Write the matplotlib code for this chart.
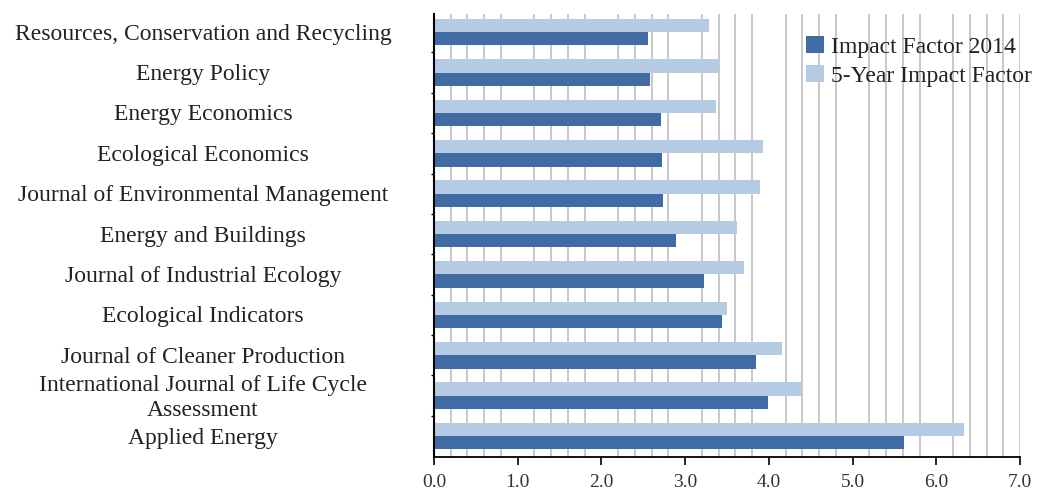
import numpy as np
import matplotlib
matplotlib.use("Agg")
import matplotlib.pyplot as plt
from matplotlib.transforms import blended_transform_factory, offset_copy

journals = [
    "Resources, Conservation and Recycling",
    "Energy Policy",
    "Energy Economics",
    "Ecological Economics",
    "Journal of Environmental Management",
    "Energy and Buildings",
    "Journal of Industrial Ecology",
    "Ecological Indicators",
    "Journal of Cleaner Production",
    "International Journal of Life Cycle\nAssessment",
    "Applied Energy",
]
impact_2014 = [2.56, 2.58, 2.71, 2.72, 2.73, 2.89, 3.23, 3.44, 3.85, 3.99, 5.61]
impact_5yr = [3.28, 3.39, 3.37, 3.93, 3.90, 3.62, 3.70, 3.50, 4.16, 4.38, 6.33]
xticks = [0, 1, 2, 3, 4, 5, 6, 7]
xticklabels = ["0.0", "1.0", "2.0", "3.0", "4.0", "5.0", "6.0", "7.0"]

plt.rcParams['font.family'] = ['Liberation Serif', 'DejaVu Serif']

fig = plt.figure(figsize=(10.41, 4.90), dpi=100)
ax = fig.add_axes([434/1041, 1 - 457/490, (1020 - 434)/1041, (457 - 14)/490])

dark = "#416ca3"
light = "#b5cae3"
h = 0.33
y = np.arange(len(journals))

# minor gridlines every 0.2 (not at integer values), plus at the end 7.0
for g in np.arange(0.2, 7.01, 0.2):
    if abs(g - round(g)) < 1e-6 and round(g) != 7:
        continue
    ax.axvline(g, color="#c8c8c8", lw=1.4, zorder=0)

ax.barh(y - h/2, impact_5yr, height=h, color=light, label="5-Year Impact Factor", zorder=2)
ax.barh(y + h/2, impact_2014, height=h, color=dark, label="Impact Factor 2014", zorder=2)

ax.set_xlim(0, 7)
ax.set_ylim(10.52, -0.45)
ax.set_xticks(xticks)
ax.set_xticklabels(xticklabels, fontsize=14)
ax.tick_params(axis='x', direction='out', length=6, width=1.2, colors='black',
               labelcolor="#333333", pad=6)

ax.set_yticks(np.arange(len(journals) - 1) + 0.5)
ax.set_yticklabels([])
ax.tick_params(axis='y', direction='out', length=2, width=1.0)

for s in ['top', 'right']:
    ax.spines[s].set_visible(False)
ax.spines['left'].set_linewidth(1.5)
ax.spines['bottom'].set_linewidth(1.3)

trans = blended_transform_factory(fig.transFigure, ax.transData)
trans = offset_copy(trans, fig=fig, y=-2, units='dots')
for yi, name in zip(y, journals):
    ax.text(203/1041, yi, name, transform=trans, ha='center', va='center',
            multialignment='center', fontsize=17, color="#222222", linespacing=1.25)

handles, labels = ax.get_legend_handles_labels()
leg = ax.legend(handles[::-1], labels[::-1], loc='upper left', bbox_to_anchor=(0.635, 0.95),
                frameon=False, fontsize=17, handlelength=0.75, handleheight=0.75,
                handletextpad=0.3, labelspacing=0.3, borderaxespad=0, borderpad=0)
for t in leg.get_texts():
    t.set_color("#222222")

fig.savefig("out.png", dpi=100, facecolor="white")
